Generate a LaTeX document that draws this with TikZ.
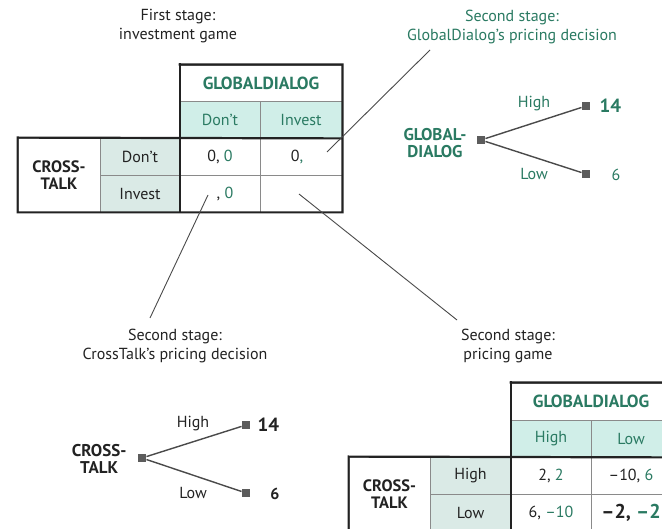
\documentclass[tikz,border=0pt]{standalone}
\usepackage{fontspec}
\setmainfont{PT Sans}
\setsansfont{PT Sans}
\usetikzlibrary{positioning,calc}

\definecolor{gdgreen}{HTML}{2A7A62}
\definecolor{inkgray}{HTML}{222222}
\definecolor{headfill}{HTML}{D0EEE8}
\definecolor{rowfill}{HTML}{DAEAE6}
\definecolor{rulegray}{HTML}{8A8A8A}
\definecolor{leadgray}{HTML}{4A4A4A}

\tikzset{
  x=1pt, y=-1pt,
  every node/.style={font=\fontsize{16}{20}\selectfont, text=inkgray},
  cell/.style={draw=rulegray, line width=0.8pt, minimum width=80, minimum height=37, inner sep=0pt, anchor=center},
  colhead/.style={cell, fill=headfill, text=gdgreen},
  rowhead/.style={cell, fill=rowfill},
  player/.style={cell, font=\fontsize{16.5}{17}\selectfont\bfseries, align=center},
  gdtitle/.style={cell, text=gdgreen, font=\fontsize{17.5}{18}\selectfont\bfseries},
  frame/.style={draw=inkgray, line width=2.2pt, line cap=rect},
  lead/.style={draw=leadgray, line width=0.9pt},
  caption/.style={align=center, font=\fontsize{16}{19}\selectfont},
  branch/.style={draw=leadgray, line width=1.4pt},
  leaf/.style={draw=none, fill=leadgray!90, minimum size=8.5, inner sep=0pt},
  treelab/.style={align=center, font=\fontsize{17}{17}\selectfont\bfseries},
}

\newcommand{\gd}[1]{\textcolor{gdgreen}{#1}}

\begin{document}
\begin{tikzpicture}
\clip (0,0) rectangle (662,529);
\fill[white] (0,0) rectangle (662,529);

% ---------- first stage: investment game ----------
\node[caption] (cap1) at (178,26) {First stage:\\investment game};

\node[gdtitle, minimum width=162, minimum height=36] (g1) at (261,83) {GLOBALDIALOG};
\node[colhead] (h1a) at (220,119.5) {Don’t};
\node[colhead, minimum width=82] (h1b) at (301,119.5) {Invest};
\node[player, minimum width=82, minimum height=74] (c1) at (59,175) {CROSS-\\TALK};
\node[rowhead] (r1a) at (140,156.5) {Don’t};
\node[rowhead] (r1b) at (140,193.5) {Invest};
\node[cell] (d1aa) at (220,156.5) {0, \gd{0}};
\node[cell, minimum width=82] (d1ab) at (301,156.5) {\hspace*{-8pt}0\gd{,}};
\node[cell] (d1ba) at (220,193.5) {\hspace*{10pt}, \gd{0}};
\node[cell, minimum width=82] (d1bb) at (301,193.5) {};

\draw[frame] (g1.north west) -- (g1.north east) -- (d1bb.south east) -- (c1.south west) -- (c1.north west) -- (h1b.south east);
\draw[frame] (g1.north west) -- (d1ba.south west);

% leader lines to the second stage
\coordinate (pA1) at (327,152);
\coordinate (pA2) at (430,50);
\coordinate (pB1) at (208,195);
\coordinate (pB2) at (150,318);
\coordinate (pC1) at (299,194);
\coordinate (pC2) at (457,320);
\draw[lead] (pA1) -- (pA2);
\draw[lead] (pB1) -- (pB2);
\draw[lead] (pC1) -- (pC2);

% ---------- second stage: GlobalDialog's pricing decision ----------
\node[caption, text=gdgreen] (cap2) at (512,27) {Second stage:\\GlobalDialog’s pricing decision};

\node[leaf] (gr) at (481,140) {};
\node[leaf] (gh) at (586,106) {};
\node[leaf] (gl) at (586,174) {};
\draw[branch] (gr) -- (gh);
\draw[branch] (gr) -- (gl);
\node[treelab, text=gdgreen, anchor=east] (gname) at (470,143) {GLOBAL-\\DIALOG};
\node[text=gdgreen] (ghl) at (534,104) {High};
\node[text=gdgreen] (gll) at (534,174) {Low};
\node[anchor=west, text=gdgreen, font=\fontsize{19}{20}\selectfont\bfseries] (ghv) at (596,106) {14};
\node[text=gdgreen] (glv) at (616,175) {6};

% ---------- second stage: CrossTalk's pricing decision ----------
\node[caption] (cap3) at (175,346) {Second stage:\\CrossTalk’s pricing decision};

\node[leaf] (cr) at (142,458) {};
\node[leaf] (ch) at (246,425) {};
\node[leaf] (cl) at (246,493) {};
\draw[branch] (cr) -- (ch);
\draw[branch] (cr) -- (cl);
\node[treelab, anchor=east] (cname) at (130,459) {CROSS-\\TALK};
\node (chl) at (193,424) {High};
\node (cll) at (193,493) {Low};
\node[anchor=west, font=\fontsize{19}{20}\selectfont\bfseries] (chv) at (254,425) {14};
\node[font=\fontsize{16}{17}\selectfont\bfseries] (clv) at (275,494) {6};

% ---------- second stage: pricing game ----------
\node[caption] (cap4) at (508,346) {Second stage:\\pricing game};

\node[gdtitle, minimum width=160, minimum height=37] (g2) at (591,401.5) {GLOBALDIALOG};
\node[colhead] (h2a) at (551,438.5) {High};
\node[colhead] (h2b) at (631,438.5) {Low};
\node[player, minimum width=81, minimum height=74] (c2) at (389.5,494) {CROSS-\\TALK};
\node[rowhead, minimum width=81] (r2a) at (470.5,475.5) {High};
\node[rowhead, minimum width=81] (r2b) at (470.5,512.5) {Low};
\node[cell] (d2aa) at (551,475.5) {2, \gd{2}};
\node[cell] (d2ab) at (631,475.5) {–10, \gd{6}};
\node[cell] (d2ba) at (551,512.5) {6, \gd{–10}};
\node[cell, font=\fontsize{20}{20}\selectfont\bfseries] (d2bb) at (631,512.5) {–2, \gd{–2}};

\draw[frame] (g2.north west) -- (g2.north east) -- (d2bb.south east) -- (c2.south west) -- (c2.north west) -- (h2b.south east);
\draw[frame] (g2.north west) -- (d2ba.south west);
\end{tikzpicture}
\end{document}
